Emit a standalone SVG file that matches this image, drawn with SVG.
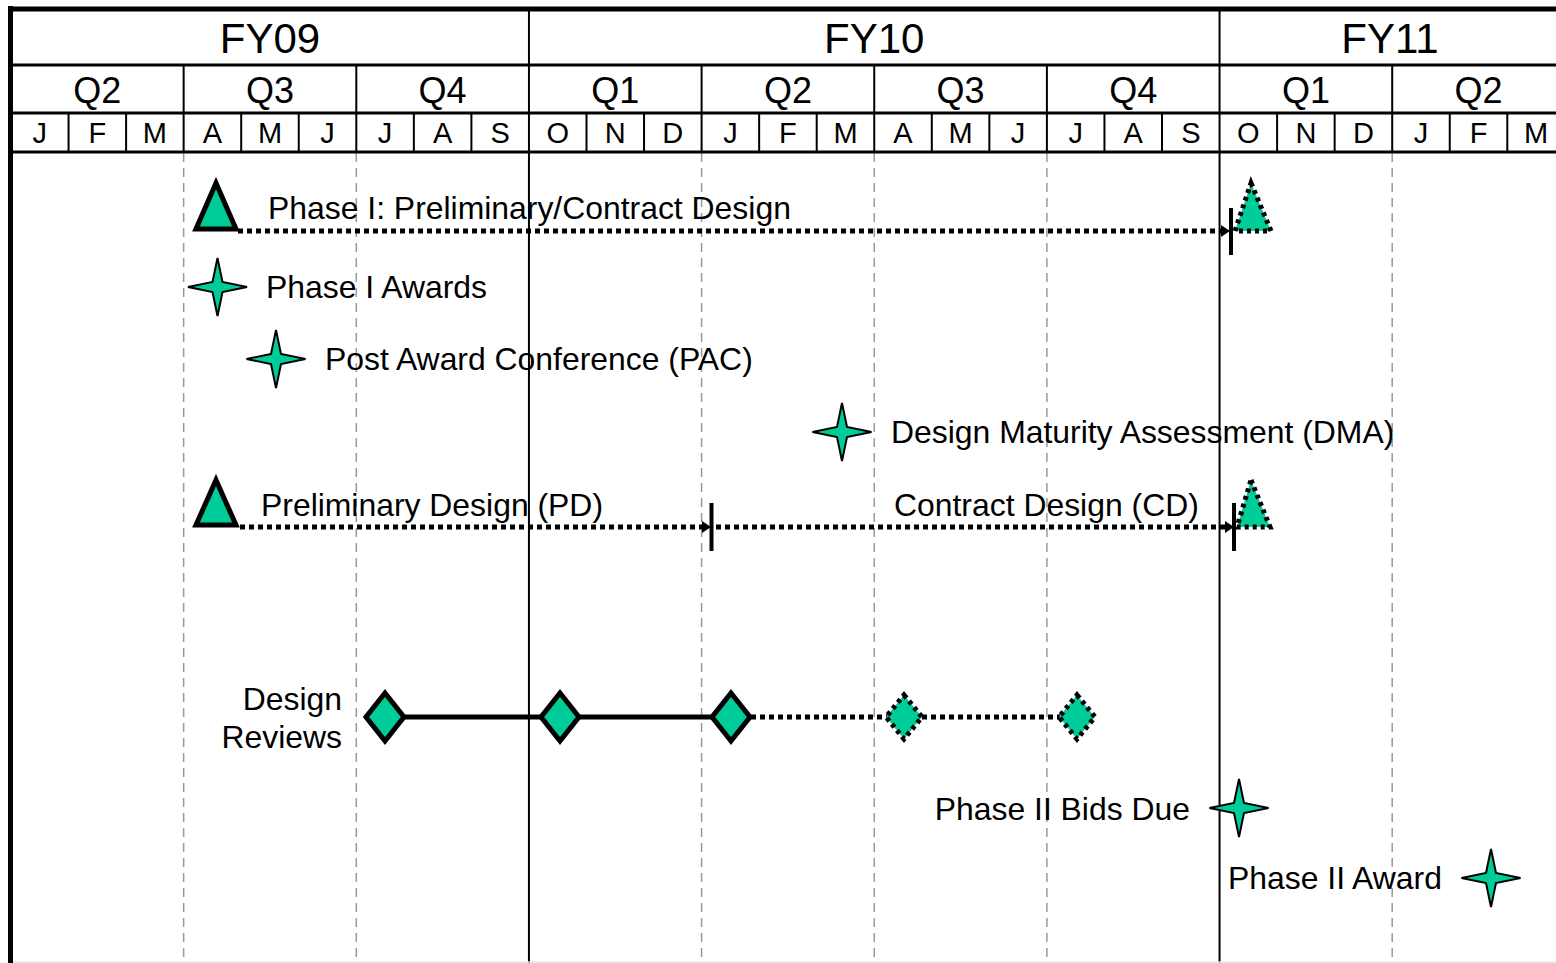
<svg xmlns="http://www.w3.org/2000/svg" width="1556" height="963" viewBox="0 0 1556 963">
<defs>
<style>
text{font-family:"Liberation Sans",Arial,sans-serif;fill:#000}
.fy{font-size:42px;text-anchor:middle}
.q{font-size:36px;text-anchor:middle}
.m{font-size:29px;text-anchor:middle}
.lbl{font-size:31.9px}
.hl{stroke:#000;stroke-width:3;fill:none}
.vl{stroke:#000;stroke-width:2;fill:none}
.grid{stroke:#999;stroke-width:1.5;stroke-dasharray:9 6;fill:none}
.fyline{stroke:#000;stroke-width:2;fill:none}
.dot{stroke:#000;stroke-width:5;stroke-dasharray:5 4;fill:none}
.solid{stroke:#000;stroke-width:5;fill:none}
.tick{stroke:#000;stroke-width:4}
.gs{fill:#00CC99;stroke:#000;stroke-width:5;stroke-linejoin:miter}
.gd{fill:#00CC99;stroke:#000;stroke-width:5;stroke-dasharray:4 4}
.star{fill:#00CC99;stroke:#000;stroke-width:2;stroke-linejoin:miter}
</style>
<path id="star" d="M0,-29 L5,-5 L29.5,0 L5,5 L0,29 L-5,5 L-29.5,0 L-5,-5 Z"/>
</defs>
<rect x="0" y="0" width="1556" height="963" fill="#fff"/>
<g id="body-grid">
<line class="grid" x1="183.65" y1="153" x2="183.65" y2="963"/>
<line class="grid" x1="356.3" y1="153" x2="356.3" y2="963"/>
<line class="grid" x1="701.6" y1="153" x2="701.6" y2="963"/>
<line class="grid" x1="874.25" y1="153" x2="874.25" y2="963"/>
<line class="grid" x1="1046.9" y1="153" x2="1046.9" y2="963"/>
<line class="grid" x1="1392.2" y1="153" x2="1392.2" y2="963"/>
<line class="fyline" x1="528.95" y1="153" x2="528.95" y2="963"/>
<line class="fyline" x1="1219.55" y1="153" x2="1219.55" y2="963"/>
<line x1="11" y1="962" x2="1556" y2="962" stroke="#e6e6e6" stroke-width="1.5"/>
</g>
<g id="header">
<line class="hl" x1="11" y1="65" x2="1556" y2="65"/>
<line class="hl" x1="11" y1="113" x2="1556" y2="113"/>
<line class="hl" x1="11" y1="152" x2="1556" y2="152"/>
<line x1="8" y1="9" x2="1556" y2="9" stroke="#000" stroke-width="5"/>
<line x1="10.5" y1="6" x2="10.5" y2="963" stroke="#000" stroke-width="5"/>
<line class="vl" x1="528.95" y1="11" x2="528.95" y2="65"/>
<line class="vl" x1="1219.55" y1="11" x2="1219.55" y2="65"/>
<line class="vl" x1="183.65" y1="65" x2="183.65" y2="113"/>
<line class="vl" x1="356.3" y1="65" x2="356.3" y2="113"/>
<line class="vl" x1="528.95" y1="65" x2="528.95" y2="113"/>
<line class="vl" x1="701.6" y1="65" x2="701.6" y2="113"/>
<line class="vl" x1="874.25" y1="65" x2="874.25" y2="113"/>
<line class="vl" x1="1046.9" y1="65" x2="1046.9" y2="113"/>
<line class="vl" x1="1219.55" y1="65" x2="1219.55" y2="113"/>
<line class="vl" x1="1392.2" y1="65" x2="1392.2" y2="113"/>
<g class="mlines">
<line class="vl" x1="68.55" y1="113" x2="68.55" y2="152"/>
<line class="vl" x1="126.1" y1="113" x2="126.1" y2="152"/>
<line class="vl" x1="183.65" y1="113" x2="183.65" y2="152"/>
<line class="vl" x1="241.2" y1="113" x2="241.2" y2="152"/>
<line class="vl" x1="298.75" y1="113" x2="298.75" y2="152"/>
<line class="vl" x1="356.3" y1="113" x2="356.3" y2="152"/>
<line class="vl" x1="413.85" y1="113" x2="413.85" y2="152"/>
<line class="vl" x1="471.4" y1="113" x2="471.4" y2="152"/>
<line class="vl" x1="528.95" y1="113" x2="528.95" y2="152"/>
<line class="vl" x1="586.5" y1="113" x2="586.5" y2="152"/>
<line class="vl" x1="644.05" y1="113" x2="644.05" y2="152"/>
<line class="vl" x1="701.6" y1="113" x2="701.6" y2="152"/>
<line class="vl" x1="759.15" y1="113" x2="759.15" y2="152"/>
<line class="vl" x1="816.7" y1="113" x2="816.7" y2="152"/>
<line class="vl" x1="874.25" y1="113" x2="874.25" y2="152"/>
<line class="vl" x1="931.8" y1="113" x2="931.8" y2="152"/>
<line class="vl" x1="989.35" y1="113" x2="989.35" y2="152"/>
<line class="vl" x1="1046.9" y1="113" x2="1046.9" y2="152"/>
<line class="vl" x1="1104.45" y1="113" x2="1104.45" y2="152"/>
<line class="vl" x1="1162" y1="113" x2="1162" y2="152"/>
<line class="vl" x1="1219.55" y1="113" x2="1219.55" y2="152"/>
<line class="vl" x1="1277.1" y1="113" x2="1277.1" y2="152"/>
<line class="vl" x1="1334.65" y1="113" x2="1334.65" y2="152"/>
<line class="vl" x1="1392.2" y1="113" x2="1392.2" y2="152"/>
<line class="vl" x1="1449.75" y1="113" x2="1449.75" y2="152"/>
<line class="vl" x1="1507.3" y1="113" x2="1507.3" y2="152"/>
</g>
<text class="fy" x="270" y="53">FY09</text>
<text class="fy" x="874.3" y="53">FY10</text>
<text class="fy" x="1390" y="53">FY11</text>
<text class="q" x="97.3" y="103">Q2</text>
<text class="q" x="270" y="103">Q3</text>
<text class="q" x="442.6" y="103">Q4</text>
<text class="q" x="615.3" y="103">Q1</text>
<text class="q" x="787.9" y="103">Q2</text>
<text class="q" x="960.6" y="103">Q3</text>
<text class="q" x="1133.2" y="103">Q4</text>
<text class="q" x="1305.9" y="103">Q1</text>
<text class="q" x="1478.5" y="103">Q2</text>
<text class="m" x="39.8" y="143">J</text>
<text class="m" x="97.3" y="143">F</text>
<text class="m" x="154.9" y="143">M</text>
<text class="m" x="212.4" y="143">A</text>
<text class="m" x="270" y="143">M</text>
<text class="m" x="327.5" y="143">J</text>
<text class="m" x="385.1" y="143">J</text>
<text class="m" x="442.6" y="143">A</text>
<text class="m" x="500.2" y="143">S</text>
<text class="m" x="557.7" y="143">O</text>
<text class="m" x="615.3" y="143">N</text>
<text class="m" x="672.8" y="143">D</text>
<text class="m" x="730.4" y="143">J</text>
<text class="m" x="787.9" y="143">F</text>
<text class="m" x="845.5" y="143">M</text>
<text class="m" x="903" y="143">A</text>
<text class="m" x="960.6" y="143">M</text>
<text class="m" x="1018.1" y="143">J</text>
<text class="m" x="1075.7" y="143">J</text>
<text class="m" x="1133.2" y="143">A</text>
<text class="m" x="1190.8" y="143">S</text>
<text class="m" x="1248.3" y="143">O</text>
<text class="m" x="1305.9" y="143">N</text>
<text class="m" x="1363.4" y="143">D</text>
<text class="m" x="1421" y="143">J</text>
<text class="m" x="1478.5" y="143">F</text>
<text class="m" x="1536.1" y="143">M</text>
</g>
<g id="connectors">
<line class="dot" x1="238" y1="231" x2="1222" y2="231"/>
<polygon points="1221,225 1230,231 1221,237" fill="#000"/>
<line class="tick" x1="1231" y1="208" x2="1231" y2="255"/>
<line class="dot" x1="240" y1="527" x2="703" y2="527"/>
<polygon points="702,521 711,527 702,533" fill="#000"/>
<line class="tick" x1="711.5" y1="503" x2="711.5" y2="551"/>
<line class="dot" x1="716" y1="527" x2="1225" y2="527"/>
<polygon points="1225,521 1234,527 1225,533" fill="#000"/>
<line class="tick" x1="1234" y1="503" x2="1234" y2="551"/>
<line class="solid" x1="405" y1="717" x2="711" y2="717"/>
<line class="dot" x1="751" y1="717" x2="1060" y2="717"/>
</g>
<g id="phase1">
<polygon class="gs" points="216,183 236,229 196,229"/>
<text class="lbl" x="268" y="219">Phase I: Preliminary/Contract Design</text>
<polygon class="gd" points="1251,183 1271,231 1235,231"/>
</g>
<g id="phase1-awards">
<use href="#star" class="star" x="217.5" y="287"/>
<text class="lbl" x="266" y="298">Phase I Awards</text>
</g>
<g id="pac">
<use href="#star" class="star" x="276" y="359"/>
<text class="lbl" x="325" y="370">Post Award Conference (PAC)</text>
</g>
<g id="dma">
<use href="#star" class="star" x="842" y="432"/>
<text class="lbl" x="891" y="443">Design Maturity Assessment (DMA)</text>
</g>
<g id="pd">
<polygon class="gs" points="216,480 236,525 196,525"/>
<text class="lbl" x="261" y="516">Preliminary Design (PD)</text>
</g>
<g id="cd">
<text class="lbl" x="894" y="516">Contract Design (CD)</text>
<polygon class="gd" points="1251,480 1270,527 1237,527"/>
</g>
<g id="design-reviews">
<text class="lbl" x="342" y="710" text-anchor="end">Design</text>
<text class="lbl" x="342" y="748" text-anchor="end">Reviews</text>
<polygon class="gs" points="385,693 404,717 385,741 366,717"/>
<polygon class="gs" points="560,693 579,717 560,741 541,717"/>
<polygon class="gs" points="731,693 750,717 731,741 712,717"/>
<polygon class="gd" points="904,695 922,717 904,739 886,717"/>
<polygon class="gd" points="1077,695 1095,717 1077,739 1059,717"/>
</g>
<g id="bids-due">
<text class="lbl" x="1190" y="820" text-anchor="end">Phase II Bids Due</text>
<use href="#star" class="star" x="1239" y="808"/>
</g>
<g id="award">
<text class="lbl" x="1228" y="889">Phase II Award</text>
<use href="#star" class="star" x="1491" y="878"/>
</g>
</svg>
